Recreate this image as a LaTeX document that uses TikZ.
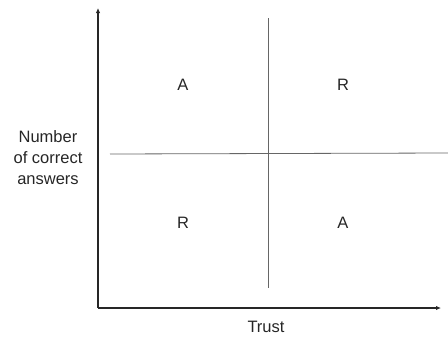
\documentclass[tikz,border=0pt]{standalone}
\usepackage{fontspec}
\setmainfont{Liberation Sans}
\usetikzlibrary{arrows.meta}
\begin{document}
\begin{tikzpicture}[x=1pt,y=-1pt,
  axis/.style={draw=black!85,line width=1.1pt,-{Latex[length=5pt,width=4.5pt]}},
  divider/.style={draw=black!60,line width=0.8pt},
  lbl/.style={font=\fontsize{16.5}{21}\selectfont,inner sep=0pt,text=black!85}]
\useasboundingbox (0,0) rectangle (448,338);
\coordinate (o) at (98,308);
\coordinate (ytip) at (98,8);
\coordinate (xtip) at (441,308);
\draw[axis] (o) -- (ytip);
\draw[axis] (o) -- (xtip);
\coordinate (vt) at (268,18);
\coordinate (vb) at (268,288);
\coordinate (hl) at (110,154);
\coordinate (hr) at (448,153);
\draw[divider] (vt) -- (vb);
\draw[divider] (hl) -- (hr);
\node[lbl] (a1) at (183,85) {A};
\node[lbl] (r1) at (343,85) {R};
\node[lbl] (r2) at (183,223) {R};
\node[lbl] (a2) at (343,223) {A};
\node[lbl,align=center] (ylab) at (48,158) {Number\\of correct\\answers};
\node[lbl] (xlab) at (266,327) {Trust};
\end{tikzpicture}
\end{document}
